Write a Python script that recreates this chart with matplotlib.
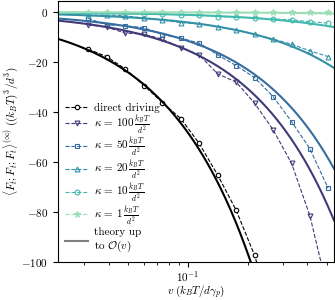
import numpy as np
import matplotlib
matplotlib.use("Agg")
import matplotlib.pyplot as plt
import seaborn as sns

plt.rcParams.update({
    "font.family": "serif",
    "font.serif": ["cmr10"],
    "mathtext.fontset": "cm",
    "axes.formatter.use_mathtext": True,
    "font.size": 8,
    "axes.unicode_minus": True,
})

# driving velocities of the simulations
v = np.array([0.0315, 0.0390, 0.0485, 0.0602, 0.0745, 0.0922, 0.1140,
              0.1414, 0.1752, 0.2168, 0.2690, 0.3330, 0.4120, 0.5090])

direct = np.array([-14.8, -17.8, -22.8, -29.4, -36.2, -42.6, -52.5,
                   -65.2, -79.3, -97.3, -122.0])

kappas = [100, 50, 20, 10, 1]
k100 = np.array([-5.1, -6.0, -8.4, -8.8, -10.9, -14.2, -17.1,
                 -24.7, -28.0, -36.4, -47.1, -60.5, -81.5, -112.0])
k50 = np.array([-2.5, -5.1, -5.5, -6.2, -9.0, -10.4, -12.4,
                -17.1, -21.4, -26.2, -33.8, -43.8, -54.7, -70.5])
k20 = np.array([-1.3, -1.1, -1.5, -2.4, -3.2, -4.2, -4.7,
                -5.8, -7.1, -8.8, -10.8, -12.8, -15.5, -17.8])
k10 = np.array([-0.6, -0.5, -0.7, -0.8, -0.9, -1.0, -1.1,
                -1.8, -2.0, -2.4, -2.7, -3.1, -3.8, -4.4])
k1 = np.array([-0.1, -0.1, -0.1, -0.1, -0.1, -0.1, -0.1,
               -0.1, -0.1, -0.1, -0.1, -0.1, -0.1, -0.1])

# slopes of the O(v) theory, <F;F;F> = -slope * v
theory_direct = 482.0
theory_kappa = [153.0, 115.0, 41.0, 11.0, 1.0]

xlim = (0.0221, 0.545)
ylim = (-100, 4.5)

cmap = sns.color_palette("mako", as_cmap=True)
colors = [cmap(t) for t in (0.28, 0.45, 0.58, 0.72, 0.88)]
markers = ["v", "s", "^", "o", "*"]

fig = plt.figure(figsize=(3.35, 3.0), dpi=100)
ax = fig.add_axes([0.172, 0.127, 0.825, 0.87])

vt = np.geomspace(xlim[0], xlim[1], 300)

ax.plot(v[:len(direct)], direct, "--", color="black", lw=0.8, marker="o",
        ms=3.2, mfc="white", mew=0.8, label="direct driving")
for kap, data, c, m in zip(kappas, [k100, k50, k20, k10, k1], colors, markers):
    ax.plot(v, data, "--", color=c, lw=0.8, marker=m, ms=3.5 if m != "*" else 4.5,
            mfc="none" if m != "*" else c, mew=0.8,
            label=rf"$\kappa\, =\, {kap}\,\frac{{k_BT}}{{d^2}}$")

ax.plot(vt, -theory_direct * vt, "-", color="black", lw=1.5)
for s, c in zip(theory_kappa, colors):
    ax.plot(vt, -s * vt, "-", color=c, lw=1.5)
ax.plot([], [], "-", color="gray", lw=1.5, label="theory up\nto $\\mathcal{O}(v)$")

ax.set_xscale("log")
ax.set_xlim(*xlim)
ax.set_ylim(*ylim)
ax.set_yticks([0, -20, -40, -60, -80, -100])
ax.tick_params(axis="x", which="major", pad=2)
ax.set_xlabel(r"$v\;(k_BT/d\gamma_p)$", labelpad=-1)
ax.set_ylabel(r"$\langle F_t;F_t;F_t\rangle^{(\infty)}\;((k_BT)^3/d^3)$", labelpad=1)

ax.legend(loc="lower left", frameon=False, fontsize=8, handlelength=2.0,
          borderaxespad=0.3, labelspacing=0.05, handletextpad=0.6)

fig.savefig("out.png", dpi=100)
